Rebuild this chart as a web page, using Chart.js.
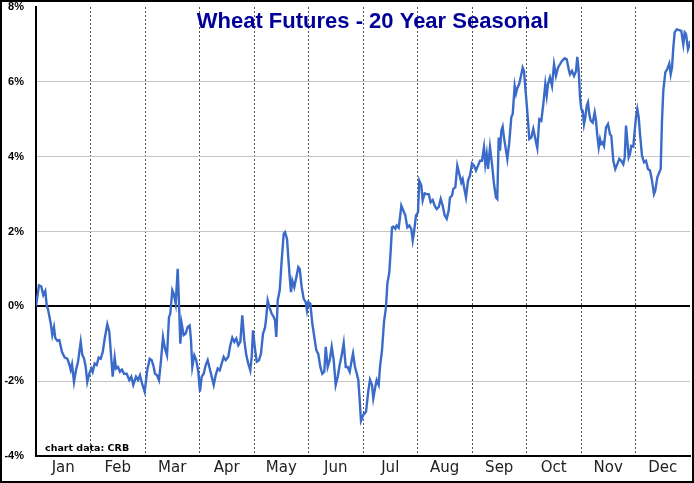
<!DOCTYPE html>
<html>
<head>
<meta charset="utf-8">
<script src="https://cdn.jsdelivr.net/npm/chart.js@4.4.1/dist/chart.umd.min.js"></script>
<style>
  body { margin: 0; background: #fff; }
  canvas { display: block; }
</style>
</head>
<body>
<canvas id="seasonal" width="694" height="483"></canvas>
<script>
// month names shown under the chart
const monthNames = ['Jan', 'Feb', 'Mar', 'Apr', 'May', 'Jun', 'Jul', 'Aug', 'Sep', 'Oct', 'Nov', 'Dec'];

// position in the year (0 = 1 Jan, 12 = 31 Dec, in months)
const xs = [
  0.00, 0.055, 0.097, 0.134, 0.171, 0.196, 0.220, 0.270, 0.299, 0.330, 0.354, 0.391, 0.428, 0.477, 0.527, 0.574,
  0.611, 0.637, 0.661, 0.697, 0.734, 0.771, 0.820, 0.850, 0.881, 0.912, 0.941, 0.978, 1.015, 1.040, 1.077, 1.114,
  1.150, 1.187, 1.224, 1.261, 1.308, 1.345, 1.382, 1.407, 1.444, 1.468, 1.505, 1.541, 1.578, 1.615, 1.664, 1.712,
  1.749, 1.785, 1.835, 1.872, 1.908, 1.945, 1.994, 2.042, 2.086, 2.123, 2.160, 2.183, 2.220, 2.257, 2.294, 2.330,
  2.367, 2.404, 2.440, 2.464, 2.501, 2.527, 2.563, 2.600, 2.624, 2.648, 2.673, 2.710, 2.747, 2.783, 2.820, 2.844,
  2.868, 2.905, 2.941, 2.978, 3.009, 3.040, 3.077, 3.114, 3.150, 3.187, 3.224, 3.261, 3.297, 3.334, 3.371, 3.407,
  3.444, 3.481, 3.528, 3.565, 3.602, 3.639, 3.675, 3.712, 3.749, 3.785, 3.822, 3.859, 3.895, 3.932, 3.958, 3.982,
  4.018, 4.050, 4.092, 4.128, 4.165, 4.202, 4.226, 4.251, 4.288, 4.325, 4.361, 4.385, 4.409, 4.435, 4.472, 4.508,
  4.545, 4.569, 4.606, 4.629, 4.655, 4.679, 4.703, 4.739, 4.776, 4.813, 4.839, 4.875, 4.912, 4.949, 4.972, 4.996,
  5.033, 5.070, 5.107, 5.143, 5.180, 5.217, 5.253, 5.290, 5.316, 5.352, 5.389, 5.426, 5.462, 5.499, 5.536, 5.572,
  5.609, 5.646, 5.683, 5.719, 5.756, 5.793, 5.817, 5.853, 5.877, 5.914, 5.939, 5.963, 6.006, 6.055, 6.092, 6.128,
  6.165, 6.189, 6.226, 6.251, 6.288, 6.312, 6.349, 6.385, 6.422, 6.446, 6.483, 6.508, 6.532, 6.556, 6.593, 6.618,
  6.655, 6.679, 6.703, 6.739, 6.776, 6.813, 6.850, 6.886, 6.912, 6.936, 6.972, 7.009, 7.033, 7.070, 7.095, 7.132,
  7.169, 7.206, 7.242, 7.279, 7.316, 7.352, 7.389, 7.426, 7.462, 7.499, 7.536, 7.572, 7.596, 7.633, 7.657, 7.694,
  7.730, 7.767, 7.804, 7.829, 7.866, 7.890, 7.927, 7.963, 8.000, 8.037, 8.073, 8.110, 8.147, 8.183, 8.220, 8.244,
  8.270, 8.294, 8.330, 8.367, 8.404, 8.440, 8.464, 8.490, 8.514, 8.538, 8.563, 8.587, 8.624, 8.648, 8.684, 8.721,
  8.747, 8.783, 8.807, 8.831, 8.868, 8.905, 8.930, 8.954, 8.978, 9.004, 9.028, 9.051, 9.088, 9.125, 9.162, 9.198,
  9.235, 9.272, 9.308, 9.345, 9.371, 9.394, 9.431, 9.468, 9.505, 9.541, 9.578, 9.615, 9.651, 9.701, 9.738, 9.774,
  9.798, 9.835, 9.872, 9.908, 9.932, 9.958, 9.982, 10.006, 10.031, 10.055, 10.079, 10.105, 10.128, 10.152, 10.178, 10.215,
  10.251, 10.275, 10.299, 10.325, 10.349, 10.372, 10.398, 10.422, 10.459, 10.495, 10.532, 10.556, 10.593, 10.629, 10.666, 10.703,
  10.739, 10.776, 10.802, 10.826, 10.850, 10.875, 10.899, 10.923, 10.960, 10.985, 11.009, 11.033, 11.059, 11.083, 11.119, 11.156,
  11.193, 11.229, 11.266, 11.303, 11.339, 11.363, 11.400, 11.437, 11.462, 11.486, 11.510, 11.547, 11.583, 11.620, 11.646, 11.670,
  11.694, 11.719, 11.756, 11.804, 11.840, 11.877, 11.903, 11.927, 11.963, 11.985, 12.000
];

// seasonal change, percent
const vals = [
  0.00, 0.56, 0.53, 0.30, 0.41, 0.03, -0.08, -0.45, -0.77, -0.56, -0.85, -0.92, -0.90, -1.22, -1.37, -1.40,
  -1.55, -1.70, -1.55, -2.02, -1.70, -1.48, -0.95, -1.30, -1.39, -1.62, -2.02, -1.80, -1.66, -1.75, -1.53, -1.57,
  -1.37, -1.40, -1.22, -0.86, -0.48, -0.68, -1.40, -1.88, -1.37, -1.66, -1.62, -1.75, -1.69, -1.80, -1.80, -1.97,
  -1.88, -2.10, -1.88, -1.97, -1.84, -2.06, -2.28, -1.70, -1.40, -1.44, -1.62, -1.80, -1.84, -1.97, -1.44, -0.82,
  -1.13, -1.31, -0.29, -0.20, 0.43, 0.34, 0.07, 1.00, 0.07, -1.00, -0.46, -0.77, -0.73, -0.55, -0.51, -0.91,
  -1.62, -1.31, -1.44, -1.75, -2.28, -1.88, -1.80, -1.57, -1.44, -1.66, -1.88, -2.10, -1.84, -1.66, -1.71, -1.53,
  -1.35, -1.44, -1.35, -1.04, -0.84, -0.95, -0.86, -1.04, -0.95, -0.24, -0.91, -1.31, -1.53, -1.71, -1.35, -0.64,
  -1.13, -1.48, -1.44, -1.26, -0.73, -0.57, -0.28, 0.16, -0.04, -0.20, -0.28, -0.37, -0.82, 0.16, 0.43, 1.23,
  1.94, 1.98, 1.80, 1.31, 0.78, 0.38, 0.69, 0.51, 0.78, 1.05, 1.00, 0.51, 0.20, 0.11, -0.11, 0.11,
  0.07, -0.46, -0.82, -1.17, -1.28, -1.62, -1.80, -1.75, -1.08, -1.62, -1.44, -1.08, -1.44, -2.10, -1.88, -1.57,
  -1.31, -0.98, -1.62, -1.62, -1.75, -1.44, -1.26, -1.62, -1.75, -1.97, -2.50, -3.06, -2.90, -2.82, -2.33, -1.96,
  -2.10, -2.46, -2.15, -1.97, -2.10, -1.62, -1.17, -0.42, -0.02, 0.60, 0.91, 1.49, 2.11, 2.13, 2.07, 2.16,
  2.10, 2.38, 2.69, 2.56, 2.43, 2.11, 2.16, 2.07, 1.76, 1.98, 2.43, 2.51, 3.36, 3.23, 2.83, 3.02,
  3.00, 3.00, 2.78, 2.84, 2.69, 2.60, 2.65, 2.87, 2.69, 2.43, 2.34, 2.56, 2.91, 2.96, 3.14, 3.18,
  3.76, 3.54, 3.31, 3.40, 3.09, 2.91, 3.36, 3.50, 3.82, 3.76, 3.63, 3.76, 3.89, 3.89, 4.25, 3.80,
  4.07, 3.67, 4.25, 3.80, 3.27, 2.91, 2.87, 4.51, 4.16, 4.69, 4.80, 4.51, 4.16, 3.94, 4.38, 5.05,
  5.14, 5.89, 5.69, 5.83, 5.95, 6.20, 6.38, 6.29, 5.85, 5.40, 4.96, 4.47, 4.51, 4.74, 4.47, 4.23,
  5.00, 4.96, 5.40, 5.94, 5.63, 5.94, 6.12, 5.89, 6.47, 6.16, 6.38, 6.47, 6.56, 6.63, 6.60, 6.34,
  6.20, 6.29, 6.16, 6.28, 6.67, 6.29, 5.60, 5.27, 5.23, 4.87, 5.05, 5.36, 5.45, 5.14, 4.96, 4.91,
  5.18, 4.96, 4.56, 4.25, 4.47, 4.34, 4.38, 4.29, 4.78, 4.87, 4.60, 4.56, 3.89, 3.67, 3.80, 3.94,
  3.89, 3.80, 3.98, 4.83, 4.43, 3.98, 4.07, 4.29, 4.27, 4.69, 5.05, 5.27, 5.05, 4.60, 4.03, 3.85,
  3.89, 3.67, 3.63, 3.36, 3.00, 3.09, 3.45, 3.58, 3.67, 4.96, 5.76, 6.25, 6.34, 6.49, 6.20, 6.38,
  6.92, 7.32, 7.40, 7.38, 7.36, 7.00, 7.32, 7.27, 6.87, 6.96, 7.09
];

const yMin = -4, yMax = 8, yStep = 2;

const points = xs.map((x, i) => ({ x: x, y: vals[i] }));

// white page, outer frame, title and source note
const framePlugin = {
  id: 'frame',
  beforeDraw(chart) {
    const ctx = chart.ctx;
    ctx.save();
    ctx.fillStyle = '#fff';
    ctx.fillRect(0, 0, chart.width, chart.height);
    ctx.restore();
  },
  afterDraw(chart) {
    const ctx = chart.ctx;
    const a = chart.chartArea;
    ctx.save();
    ctx.fillStyle = '#000099';
    ctx.font = 'bold 22px "Liberation Sans", Arial, sans-serif';
    ctx.textAlign = 'center';
    ctx.textBaseline = 'alphabetic';
    ctx.fillText('Wheat Futures - 20 Year Seasonal', a.left + (a.right - a.left) * 0.515, a.top + 21);

    ctx.fillStyle = '#000';
    ctx.font = 'bold 9.5px "DejaVu Sans", Verdana, sans-serif';
    ctx.textAlign = 'left';
    ctx.fillText('chart data: CRB', a.left + 9, a.bottom - 5);

    ctx.strokeStyle = '#000';
    ctx.lineWidth = 2;
    ctx.strokeRect(1, 1, chart.width - 2, chart.height - 2);
    ctx.restore();
  }
};

const chart = new Chart(document.getElementById('seasonal'), {
  type: 'line',
  data: {
    datasets: [{
      data: points,
      borderColor: '#3a6bc8',
      borderWidth: 2.4,
      pointRadius: 0,
      tension: 0,
      fill: false
    }]
  },
  options: {
    responsive: false,
    animation: false,
    devicePixelRatio: 1,
    layout: { padding: { top: 7, right: 4, left: 0, bottom: 0 } },
    plugins: { legend: { display: false }, tooltip: { enabled: false } },
    scales: {
      x: {
        type: 'linear',
        min: 0,
        max: 12,
        afterBuildTicks(scale) {
          const t = [];
          for (let m = 0; m <= 12; m += 0.5) t.push({ value: m });
          scale.ticks = t;
        },
        afterFit(scale) {
          scale.height = 27;
          scale.paddingLeft = 0;
          scale.paddingRight = 0;
        },
        ticks: {
          autoSkip: false,
          maxRotation: 0,
          padding: 3,
          color: '#222',
          font: { family: '"DejaVu Sans", Verdana, sans-serif', size: 15 },
          callback: (v) => (v % 1 === 0.5 ? monthNames[Math.floor(v)] : '')
        },
        grid: {
          drawTicks: false,
          lineWidth: 1,
          color: (c) => {
            const v = c.tick ? c.tick.value : 0;
            return (v % 1 === 0 && v > 0 && v < 12) ? '#555' : 'rgba(0,0,0,0)';
          }
        },
        border: { color: '#000', width: 2, dash: [2, 2] }
      },
      y: {
        min: yMin,
        max: yMax,
        afterFit(scale) {
          scale.width = 36;
          scale.paddingTop = 0;
          scale.paddingBottom = 0;
        },
        ticks: {
          stepSize: yStep,
          padding: 12,
          color: '#000',
          font: { family: '"Liberation Sans", Arial, sans-serif', size: 11, weight: 'bold' },
          callback: (v) => v + '%'
        },
        grid: {
          drawTicks: false,
          color: (c) => {
            const v = c.tick ? c.tick.value : 0;
            if (v === 0) return '#000';
            if (v === yMax || v === yMin) return 'rgba(0,0,0,0)';
            return '#c4c4c4';
          },
          lineWidth: (c) => (c.tick && c.tick.value === 0 ? 2 : 1)
        },
        border: { color: '#000', width: 2 }
      }
    }
  },
  plugins: [framePlugin]
});
</script>
</body>
</html>
